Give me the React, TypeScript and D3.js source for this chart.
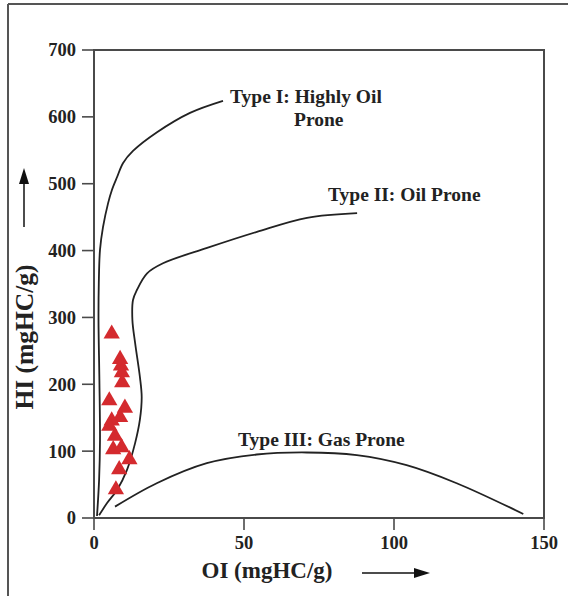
import React from "react";
import * as d3 from "d3";

const xTicks = [0, 50, 100, 150];
const yTicks = [0, 100, 200, 300, 400, 500, 600, 700];

const samplesOI = [5.9, 8.7, 9.0, 9.3, 9.4, 5.1, 10.3, 8.7, 5.9, 5.1, 7.0, 6.4, 9.2, 11.8, 8.4, 7.3];
const samplesHI = [277, 239, 229, 219, 204, 177, 166, 152, 147, 139, 124, 104, 107, 89, 74, 44];

const typeI: [number, number][] = [
  [1, 3], [1.7, 57], [2, 117], [1.8, 206], [1.5, 296], [1.6, 351], [2, 401], [3, 435],
  [4.7, 471], [6, 491], [7.7, 510], [9.7, 531], [13, 549], [21, 577], [32, 606], [43, 624],
];
const typeII: [number, number][] = [
  [1.7, 4], [4.3, 22], [7.7, 42], [11, 72], [13.7, 112], [15.3, 147], [15.9, 181], [15.3, 211],
  [13.7, 262], [12.8, 296], [13, 326], [14.3, 341], [17.7, 366], [23, 381], [37.7, 404],
  [54.3, 428], [71, 449], [87.7, 456],
];
const typeIII: [number, number][] = [
  [7, 17], [20.9, 52], [37.6, 82], [54.2, 95], [70.9, 98], [87.6, 94], [104.2, 79], [120.9, 52], [143.1, 6],
];

const FONT = "'Liberation Serif', 'Times New Roman', serif";

export default function App() {
  const x = d3.scaleLinear().domain([0, 150]).range([94, 544]);
  const y = d3.scaleLinear().domain([0, 700]).range([518, 50]);
  const line = d3
    .line<[number, number]>()
    .x((d) => x(d[0]))
    .y((d) => y(d[1]))
    .curve(d3.curveCatmullRom.alpha(0.5));
  const tri = d3.symbol().type(d3.symbolTriangle).size(115);
  const axisColor = "#4a4a4a";

  return (
    <svg
      width={568}
      height={596}
      style={{ position: "absolute", left: 0, top: 0, background: "#fff" }}
      fontFamily={FONT}
    >
      <rect x={0} y={0} width={568} height={596} fill="#fff" />
      {/* outer frame */}
      <line x1={8} y1={4} x2={568} y2={4} stroke="#555" strokeWidth={2} />
      <line x1={8} y1={4} x2={8} y2={596} stroke="#555" strokeWidth={2} />

      {/* plot box */}
      <rect x={x(0)} y={y(700)} width={x(150) - x(0)} height={y(0) - y(700)} fill="none" stroke={axisColor} strokeWidth={2} />

      {yTicks.map((t) => (
        <g key={"y" + t}>
          <line x1={x(0) - 12} x2={x(0)} y1={y(t)} y2={y(t)} stroke={axisColor} strokeWidth={1.6} />
          <text x={76} y={y(t)} dy="0.35em" textAnchor="end" fontSize={18.5} fontWeight="bold" fill="#222">
            {t}
          </text>
        </g>
      ))}
      {xTicks.map((t) => (
        <g key={"x" + t}>
          <line x1={x(t)} x2={x(t)} y1={y(0)} y2={y(0) + 12} stroke={axisColor} strokeWidth={1.6} />
          <text x={x(t)} y={549} textAnchor="middle" fontSize={18.5} fontWeight="bold" fill="#222">
            {t}
          </text>
        </g>
      ))}

      {/* curves */}
      {[typeI, typeII, typeIII].map((pts, i) => (
        <path key={i} d={line(pts) || ""} fill="none" stroke="#222" strokeWidth={1.8} />
      ))}

      {/* samples */}
      {samplesOI.map((o, i) => (
        <path
          key={"s" + i}
          d={tri() || ""}
          transform={`translate(${x(o)},${y(samplesHI[i]) + 1})`}
          fill="#d42a2e"
        />
      ))}

      {/* curve labels */}
      <g fontSize={19.5} fontWeight="bold" fill="#222">
        <text x={230} y={103}>Type I: Highly Oil</text>
        <text x={294} y={126}>Prone</text>
        <text x={328} y={201}>Type II: Oil Prone</text>
        <text x={238} y={446}>Type III: Gas Prone</text>
      </g>

      {/* axis titles */}
      <text x={267} y={578} textAnchor="middle" fontSize={23} fontWeight="bold" fill="#222">
        OI (mgHC/g)
      </text>
      <text
        transform="translate(33,337) rotate(-90)"
        textAnchor="middle"
        fontSize={25.5}
        fontWeight="bold"
        fill="#222"
      >
        HI (mgHC/g)
      </text>

      {/* arrows */}
      <line x1={24} y1={227} x2={24} y2={183} stroke="#111" strokeWidth={1.5} />
      <path d="M24,168 L19,184 L29,184 Z" fill="#111" />
      <line x1={362} y1={573} x2={415} y2={573} stroke="#111" strokeWidth={1.5} />
      <path d="M430,573 L414,568 L414,578 Z" fill="#111" />
    </svg>
  );
}
